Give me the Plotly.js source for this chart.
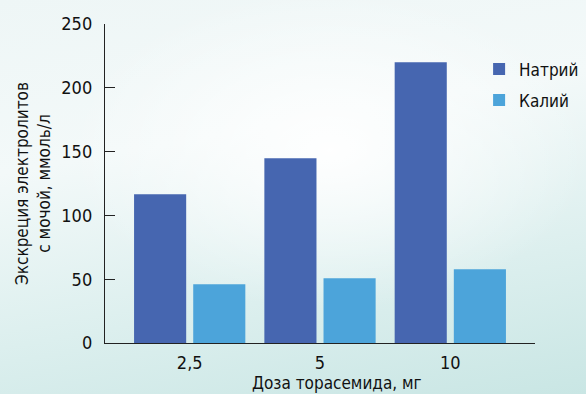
<!DOCTYPE html>
<html>
<head>
<meta charset="utf-8">
<script src="https://cdn.plot.ly/plotly-3.0.1.min.js"></script>
<style>
html,body{margin:0;padding:0;}
body{width:586px;height:394px;overflow:hidden;
background:
 radial-gradient(ellipse 260px 160px at 330px 150px, rgba(255,255,255,0.95), rgba(255,255,255,0) 100%),
 linear-gradient(170deg, #eef6f6 0%, #f3f9f9 35%, #dcefee 70%, #c9e6e4 100%);}
#chart{width:586px;height:394px;}
</style>
</head>
<body>
<div id="chart"></div>
<script>
const doses = ['2,5', '5', '10'];
const sodium = [116.5, 144.7, 220];
const potassium = [46, 50.7, 57.8];
const seriesNames = ['Натрий', 'Калий'];
const yTicks = [0, 50, 100, 150, 200, 250];

const FONT = '"Liberation Sans Narrow", "DejaVu Sans Condensed", "Roboto Condensed", "Arial Narrow", sans-serif';

const data = [
  {type: 'bar', x: doses, y: sodium, name: seriesNames[0], legendgroup: 'na', marker: {color: '#4666b0'}},
  {type: 'bar', x: doses, y: potassium, name: seriesNames[1], legendgroup: 'k', marker: {color: '#4ca4da'}}
];

const layout = {
  width: 586, height: 394,
  margin: {l: 105, r: 51, t: 23.5, b: 51.3, pad: 0, autoexpand: false},
  paper_bgcolor: 'rgba(0,0,0,0)',
  plot_bgcolor: 'rgba(0,0,0,0)',
  font: {family: FONT, size: 18, color: '#111'},
  barmode: 'group',
  bargap: 0.092,
  bargroupgap: 0.119,
  showlegend: true,
  legend: {x: 0.87, xanchor: 'left', y: 0.914, yanchor: 'top', font: {size: 17}, bgcolor: 'rgba(0,0,0,0)',
           itemwidth: 30, traceorder: 'grouped', tracegroupgap: 6},
  xaxis: {
    type: 'category', range: [-0.65, 2.65],
    showline: true, linecolor: '#222', linewidth: 1.2,
    ticks: '', showgrid: false, zeroline: false,
    tickfont: {size: 18}, ticklabelstandoff: 3
  },
  yaxis: {
    range: [0, 250], tickvals: yTicks,
    showline: true, linecolor: '#222', linewidth: 1.2,
    ticks: 'inside', ticklen: 10, tickcolor: '#222', tickwidth: 1.2,
    showgrid: false, zeroline: false,
    tickfont: {size: 18}, ticklabelstandoff: 8,
    title: {text: 'Экскреция электролитов<br>с мочой, ммоль/л', font: {size: 17}, standoff: 6}
  },
  annotations: [{
    text: 'Доза торасемида, мг', xref: 'paper', yref: 'paper',
    x: 0.54, y: 0, yshift: -28, xanchor: 'center', yanchor: 'top', showarrow: false,
    font: {size: 17}
  }]
};

Plotly.newPlot('chart', data, layout, {displayModeBar: false, staticPlot: true});
</script>
</body>
</html>
